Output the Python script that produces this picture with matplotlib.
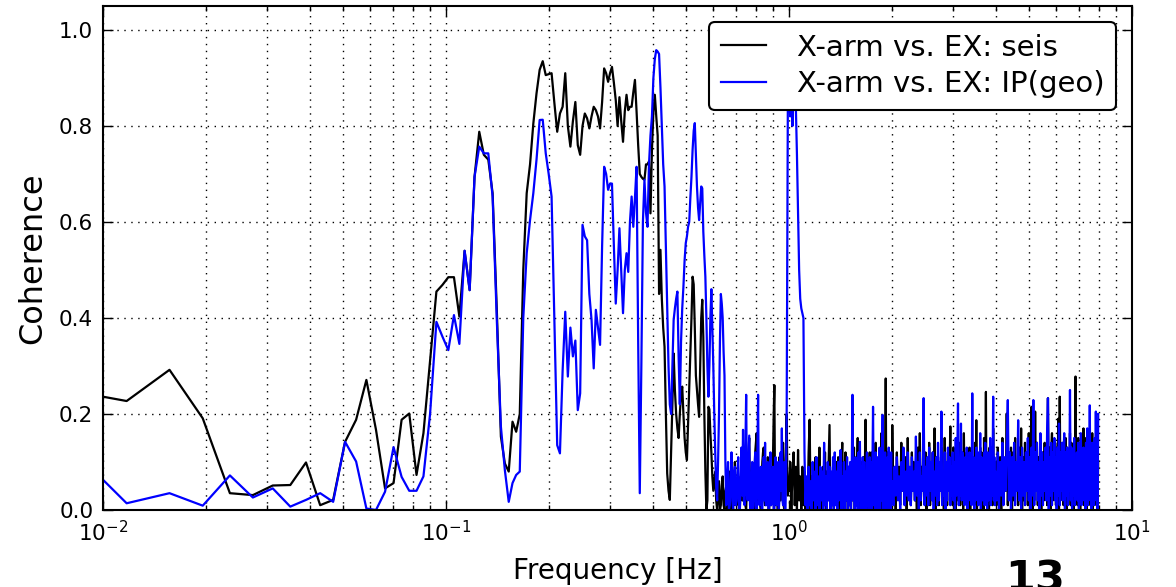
"""Coherence of X-arm motion against EX seismometer / IP geophone."""
import matplotlib
matplotlib.use("Agg")
import matplotlib.pyplot as plt
import numpy as np

# Frequency bins (bin width 1/256 Hz), decimated at higher frequency
DF = 1.0 / 256
bins_low = np.arange(2, 150)
bins_mid = np.arange(150, 256)
bins_1hz = np.arange(256, 512, 2)
bins_2hz = np.arange(512, 1024, 4)
bins_4hz = np.arange(1024, 2048, 8)

# X-arm vs. EX: seis
seis_low = [
    0.25, 0.227, 0.292, 0.191, 0.035, 0.031, 0.051, 0.052, 0.099, 0.010,
    0.021, 0.142, 0.188, 0.271, 0.167, 0.045, 0.056, 0.188, 0.201, 0.073,
    0.16, 0.31, 0.455, 0.469, 0.485, 0.485, 0.403, 0.54, 0.458, 0.694,
    0.788, 0.74, 0.73, 0.66, 0.417, 0.153, 0.097, 0.08, 0.184, 0.163,
    0.2, 0.5, 0.66, 0.72, 0.805, 0.868, 0.917, 0.935, 0.906, 0.908,
    0.91, 0.847, 0.788, 0.826, 0.84, 0.91, 0.80, 0.757, 0.81, 0.85,
    0.76, 0.74, 0.80, 0.826, 0.816, 0.795, 0.82, 0.84, 0.833, 0.82,
    0.795, 0.85, 0.92, 0.91, 0.892, 0.91, 0.923, 0.89, 0.854, 0.80,
    0.86, 0.81, 0.767, 0.83, 0.865, 0.833, 0.84, 0.84, 0.87, 0.896,
    0.83, 0.76, 0.70, 0.694, 0.69, 0.688, 0.72, 0.72, 0.726, 0.618,
    0.75, 0.83, 0.865, 0.82, 0.78, 0.45, 0.542, 0.44, 0.38, 0.34,
    0.20, 0.076, 0.04, 0.021, 0.12, 0.22, 0.326, 0.25, 0.20, 0.17,
    0.15, 0.20, 0.24, 0.257, 0.20, 0.15, 0.12, 0.104, 0.18, 0.26,
    0.326, 0.40, 0.486, 0.47, 0.38, 0.28, 0.25, 0.22, 0.194, 0.30,
    0.40, 0.438, 0.36, 0.20, 0.08, 0.0, 0.02, 0.215,
]
seis_mid = [
    0.21, 0.16, 0.12, 0.07, 0.04, 0.06, 0.08, 0.02, 0.00, 0.03,
    0.06, 0.00, 0.01, 0.05, 0.07, 0.01, 0.00, 0.04, 0.05, 0.00,
    0.01, 0.06, 0.08, 0.02, 0.00, 0.04, 0.06, 0.01, 0.10, 0.03,
    0.01, 0.05, 0.07, 0.00, 0.00, 0.06, 0.09, 0.02, 0.02, 0.07,
    0.10, 0.01, 0.00, 0.05, 0.08, 0.12, 0.15, 0.03, 0.01, 0.06,
    0.09, 0.01, 0.00, 0.07, 0.12, 0.14, 0.16, 0.04, 0.02, 0.05,
    0.08, 0.01, 0.00, 0.06, 0.10, 0.12, 0.13, 0.02, 0.01, 0.05,
    0.07, 0.03, 0.11, 0.00, 0.00, 0.06, 0.09, 0.01, 0.02, 0.08,
    0.12, 0.20, 0.26, 0.05, 0.01, 0.04, 0.08, 0.00, 0.00, 0.07,
    0.11, 0.02, 0.02, 0.06, 0.09, 0.12, 0.14, 0.01, 0.00, 0.05,
    0.09, 0.14, 0.20, 0.08, 0.03, 0.05,
]
seis_1hz = [
    0.04, 0.10, 0.00, 0.08, 0.12, 0.01, 0.09, 0.00, 0.125, 0.02, 0.07, 0.00, 0.09, 0.01, 0.08, 0.00,
    0.06, 0.01, 0.12, 0.188, 0.00, 0.07, 0.02, 0.09, 0.00, 0.11, 0.01, 0.08, 0.00, 0.13, 0.02, 0.07,
    0.00, 0.09, 0.01, 0.12, 0.00, 0.08, 0.02, 0.10, 0.177, 0.00, 0.07, 0.01, 0.09, 0.00, 0.08, 0.02,
    0.10, 0.00, 0.11, 0.01, 0.07, 0.00, 0.09, 0.14, 0.01, 0.08, 0.00, 0.12, 0.02, 0.07, 0.00, 0.09,
    0.01, 0.08, 0.00, 0.10, 0.02, 0.07, 0.13, 0.00, 0.09, 0.01, 0.08, 0.15, 0.00, 0.09, 0.02, 0.07,
    0.00, 0.10, 0.01, 0.11, 0.00, 0.09, 0.188, 0.02, 0.08, 0.00, 0.10, 0.01, 0.12, 0.00, 0.07, 0.12,
    0.01, 0.09, 0.00, 0.11, 0.02, 0.14, 0.00, 0.08, 0.01, 0.11, 0.00, 0.09, 0.02, 0.10, 0.16, 0.00,
    0.08, 0.01, 0.10, 0.00, 0.09, 0.274, 0.02, 0.07, 0.12, 0.00, 0.09, 0.01, 0.10, 0.00, 0.11, 0.02,
]
seis_2hz = [
    0.177, 0.02, 0.08, 0.00, 0.12, 0.03, 0.09, 0.01, 0.14, 0.04, 0.07, 0.02, 0.11, 0.00, 0.15, 0.03,
    0.08, 0.01, 0.12, 0.04, 0.10, 0.02, 0.07, 0.00, 0.13, 0.03, 0.16, 0.01, 0.09, 0.04, 0.11, 0.02,
    0.12, 0.00, 0.10, 0.03, 0.14, 0.01, 0.09, 0.04, 0.12, 0.02, 0.17, 0.00, 0.07, 0.03, 0.11, 0.01,
    0.09, 0.04, 0.13, 0.02, 0.07, 0.00, 0.15, 0.03, 0.10, 0.01, 0.12, 0.04, 0.08, 0.174, 0.02, 0.11,
    0.01, 0.13, 0.03, 0.09, 0.00, 0.12, 0.02, 0.08, 0.04, 0.14, 0.01, 0.10, 0.03, 0.11, 0.00, 0.16,
    0.02, 0.09, 0.04, 0.12, 0.01, 0.10, 0.03, 0.13, 0.00, 0.08, 0.02, 0.11, 0.04, 0.09, 0.01, 0.14,
    0.03, 0.187, 0.00, 0.11, 0.02, 0.08, 0.04, 0.13, 0.01, 0.12, 0.03, 0.10, 0.00, 0.15, 0.02, 0.08,
    0.246, 0.01, 0.11, 0.03, 0.09, 0.00, 0.13, 0.02, 0.10, 0.04, 0.12, 0.01, 0.17, 0.03, 0.10, 0.02,
]
seis_4hz = [
    0.10, 0.01, 0.13, 0.03, 0.11, 0.00, 0.15, 0.02, 0.09, 0.04, 0.201, 0.01, 0.11, 0.03, 0.13, 0.00,
    0.12, 0.02, 0.15, 0.04, 0.10, 0.01, 0.13, 0.03, 0.17, 0.00, 0.11, 0.02, 0.14, 0.04, 0.12, 0.01,
    0.16, 0.03, 0.13, 0.215, 0.00, 0.12, 0.02, 0.205, 0.04, 0.14, 0.01, 0.11, 0.03, 0.15, 0.00, 0.10,
    0.12, 0.02, 0.14, 0.04, 0.11, 0.01, 0.233, 0.03, 0.13, 0.00, 0.12, 0.16, 0.02, 0.11, 0.04, 0.14,
    0.01, 0.10, 0.03, 0.19, 0.00, 0.236, 0.02, 0.11, 0.04, 0.14, 0.01, 0.12, 0.03, 0.15, 0.00, 0.13,
    0.02, 0.12, 0.04, 0.16, 0.01, 0.14, 0.03, 0.11, 0.00, 0.13, 0.02, 0.278, 0.04, 0.12, 0.01, 0.15,
    0.03, 0.11, 0.00, 0.14, 0.02, 0.12, 0.04, 0.17, 0.01, 0.13, 0.03, 0.15, 0.00, 0.12, 0.02, 0.14,
    0.04, 0.11, 0.01, 0.13, 0.03, 0.16, 0.00, 0.12, 0.02, 0.14, 0.04, 0.11, 0.01, 0.13, 0.03, 0.10,
]

# X-arm vs. EX: IP(geo)
geo_low = [
    0.139, 0.014, 0.035, 0.009, 0.072, 0.026, 0.045, 0.007, 0.021, 0.035,
    0.017, 0.142, 0.101, 0.003, 0.0, 0.038, 0.131, 0.069, 0.04, 0.04,
    0.07, 0.2, 0.392, 0.361, 0.333, 0.406, 0.346, 0.54, 0.458, 0.694,
    0.757, 0.743, 0.743, 0.653, 0.396, 0.174, 0.083, 0.017, 0.056, 0.073,
    0.08, 0.40, 0.535, 0.604, 0.66, 0.73, 0.8125, 0.813, 0.743, 0.70,
    0.653, 0.396, 0.135, 0.118, 0.29, 0.413, 0.278, 0.38, 0.32, 0.353,
    0.208, 0.243, 0.594, 0.57, 0.562, 0.45, 0.396, 0.295, 0.417, 0.38,
    0.344, 0.55, 0.715, 0.70, 0.667, 0.68, 0.68, 0.55, 0.43, 0.50,
    0.587, 0.50, 0.41, 0.50, 0.535, 0.496, 0.60, 0.653, 0.59, 0.65,
    0.715, 0.35, 0.035, 0.30, 0.60, 0.688, 0.62, 0.59, 0.72, 0.78,
    0.82, 0.90, 0.94, 0.958, 0.955, 0.95, 0.88, 0.80, 0.72, 0.674,
    0.55, 0.42, 0.30, 0.22, 0.20, 0.30, 0.396, 0.42, 0.44, 0.455,
    0.32, 0.22, 0.35, 0.42, 0.465, 0.52, 0.556, 0.57, 0.59, 0.60,
    0.65, 0.694, 0.75, 0.79, 0.806, 0.74, 0.674, 0.63, 0.604, 0.64,
    0.674, 0.67, 0.58, 0.53, 0.486, 0.40, 0.30, 0.236,
]
geo_mid = [
    0.30, 0.40, 0.46, 0.38, 0.30, 0.20, 0.12, 0.05, 0.02, 0.10,
    0.20, 0.35, 0.45, 0.43, 0.40, 0.33, 0.28, 0.10, 0.01, 0.05,
    0.10, 0.00, 0.01, 0.06, 0.12, 0.02, 0.00, 0.08, 0.09, 0.01,
    0.02, 0.07, 0.11, 0.00, 0.00, 0.05, 0.13, 0.03, 0.167, 0.02,
    0.01, 0.12, 0.24, 0.03, 0.02, 0.09, 0.155, 0.01, 0.00, 0.06,
    0.10, 0.00, 0.01, 0.08, 0.12, 0.02, 0.00, 0.11, 0.24, 0.03,
    0.01, 0.05, 0.09, 0.00, 0.00, 0.07, 0.11, 0.02, 0.14, 0.01,
    0.01, 0.06, 0.10, 0.00, 0.00, 0.08, 0.12, 0.01, 0.02, 0.07,
    0.09, 0.00, 0.00, 0.06, 0.11, 0.02, 0.01, 0.08, 0.10, 0.00,
    0.02, 0.09, 0.12, 0.04, 0.17, 0.02, 0.01, 0.06, 0.10, 0.00,
    0.00, 0.08, 0.20, 0.55, 0.85, 0.90,
]
geo_1hz = [
    0.90, 0.82, 0.93, 0.80, 0.92, 0.85, 0.84, 0.74, 0.62, 0.50, 0.44, 0.42, 0.41, 0.40, 0.12, 0.01,
    0.07, 0.00, 0.09, 0.01, 0.06, 0.00, 0.10, 0.02, 0.08, 0.00, 0.11, 0.01, 0.07, 0.00, 0.09, 0.02,
    0.08, 0.00, 0.14, 0.01, 0.07, 0.00, 0.10, 0.02, 0.09, 0.00, 0.08, 0.01, 0.11, 0.00, 0.12, 0.01,
    0.08, 0.00, 0.10, 0.02, 0.09, 0.125, 0.00, 0.07, 0.01, 0.10, 0.00, 0.08, 0.02, 0.11, 0.00, 0.09,
    0.01, 0.10, 0.00, 0.08, 0.24, 0.02, 0.09, 0.00, 0.11, 0.01, 0.08, 0.00, 0.12, 0.02, 0.142, 0.00,
    0.09, 0.01, 0.11, 0.00, 0.10, 0.02, 0.08, 0.00, 0.12, 0.01, 0.09, 0.00, 0.11, 0.02, 0.10, 0.00,
    0.08, 0.215, 0.01, 0.10, 0.00, 0.12, 0.02, 0.09, 0.00, 0.11, 0.01, 0.13, 0.00, 0.10, 0.02, 0.11,
    0.198, 0.00, 0.10, 0.01, 0.12, 0.00, 0.09, 0.02, 0.11, 0.00, 0.13, 0.01, 0.10, 0.00, 0.12, 0.02,
]
geo_2hz = [
    0.06, 0.01, 0.09, 0.03, 0.11, 0.02, 0.07, 0.00, 0.10, 0.04, 0.13, 0.01, 0.08, 0.03, 0.12, 0.02,
    0.09, 0.01, 0.11, 0.04, 0.08, 0.02, 0.153, 0.03, 0.10, 0.00, 0.12, 0.02, 0.07, 0.04, 0.233, 0.01,
    0.09, 0.03, 0.11, 0.01, 0.13, 0.04, 0.10, 0.02, 0.12, 0.00, 0.08, 0.03, 0.11, 0.01, 0.14, 0.02,
    0.10, 0.04, 0.205, 0.01, 0.08, 0.03, 0.12, 0.00, 0.10, 0.02, 0.13, 0.04, 0.11, 0.01, 0.09, 0.03,
    0.12, 0.02, 0.10, 0.00, 0.15, 0.03, 0.11, 0.222, 0.01, 0.09, 0.03, 0.18, 0.02, 0.12, 0.04, 0.10,
    0.01, 0.11, 0.03, 0.13, 0.00, 0.10, 0.02, 0.12, 0.04, 0.09, 0.01, 0.243, 0.03, 0.11, 0.00, 0.10,
    0.02, 0.13, 0.04, 0.09, 0.01, 0.12, 0.03, 0.16, 0.00, 0.11, 0.02, 0.10, 0.04, 0.12, 0.01, 0.14,
    0.03, 0.10, 0.00, 0.12, 0.02, 0.11, 0.04, 0.15, 0.01, 0.13, 0.03, 0.09, 0.236, 0.02, 0.11, 0.01,
]
geo_4hz = [
    0.08, 0.02, 0.12, 0.00, 0.10, 0.03, 0.14, 0.01, 0.11, 0.04, 0.13, 0.229, 0.02, 0.12, 0.00, 0.11,
    0.03, 0.14, 0.01, 0.10, 0.04, 0.187, 0.02, 0.11, 0.00, 0.13, 0.03, 0.10, 0.01, 0.12, 0.04, 0.15,
    0.02, 0.11, 0.00, 0.13, 0.03, 0.229, 0.01, 0.12, 0.04, 0.14, 0.02, 0.10, 0.00, 0.16, 0.03, 0.12,
    0.01, 0.10, 0.04, 0.13, 0.02, 0.17, 0.233, 0.00, 0.11, 0.03, 0.14, 0.01, 0.12, 0.04, 0.15, 0.02,
    0.11, 0.00, 0.13, 0.03, 0.18, 0.01, 0.12, 0.04, 0.14, 0.02, 0.11, 0.16, 0.00, 0.12, 0.03, 0.13,
    0.01, 0.11, 0.04, 0.25, 0.02, 0.13, 0.00, 0.12, 0.03, 0.15, 0.01, 0.10, 0.04, 0.12, 0.02, 0.14,
    0.00, 0.12, 0.03, 0.16, 0.01, 0.11, 0.04, 0.13, 0.02, 0.12, 0.00, 0.14, 0.03, 0.17, 0.01, 0.11,
    0.04, 0.218, 0.02, 0.12, 0.00, 0.14, 0.03, 0.11, 0.01, 0.15, 0.04, 0.205, 0.02, 0.14, 0.00, 0.20,
]

freq = np.concatenate([bins_low, bins_mid, bins_1hz, bins_2hz, bins_4hz]) * DF
coh_seis = np.concatenate([seis_low, seis_mid, seis_1hz, seis_2hz, seis_4hz])
coh_geo = np.concatenate([geo_low, geo_mid, geo_1hz, geo_2hz, geo_4hz])


def main():
    plt.rcParams["font.family"] = "DejaVu Sans"
    plt.rcParams["xtick.direction"] = "in"
    plt.rcParams["ytick.direction"] = "in"

    fig = plt.figure(figsize=(11.76, 5.87), dpi=100)
    ax = fig.add_axes([0.0876, 0.1312, 0.875, 0.8586])

    ax.plot(freq, coh_seis, color="k", linewidth=1.6, label="X-arm vs. EX: seis")
    ax.plot(freq, coh_geo, color="b", linewidth=1.6, label="X-arm vs. EX: IP(geo)")

    ax.set_xscale("log")
    ax.set_xlim(1e-2, 1e1)
    ax.set_ylim(0, 1.05)
    ax.set_yticks([0.0, 0.2, 0.4, 0.6, 0.8, 1.0])
    ax.set_yticklabels(["0.0", "0.2", "0.4", "0.6", "0.8", "1.0"])

    grid_style = dict(color="k", linestyle=(0, (1, 4)), linewidth=1.0)
    ax.grid(True, which="both", axis="x", **grid_style)
    ax.grid(True, which="major", axis="y", **grid_style)
    ax.tick_params(which="both", top=True, right=True, labelsize=15.5, width=1.0)
    ax.tick_params(which="major", length=7, pad=7)
    ax.tick_params(which="minor", length=3.5)
    for spine in ax.spines.values():
        spine.set_linewidth(1.5)

    ax.set_xlabel("Frequency [Hz]", fontsize=20, labelpad=9)
    ax.set_ylabel("Coherence", fontsize=23, labelpad=8)

    leg = ax.legend(loc="upper right", fontsize=21, handlelength=1.55,
                    handletextpad=1.05, fancybox=True, framealpha=1.0,
                    borderaxespad=0.55, borderpad=0.4, labelspacing=0.3)
    leg.get_frame().set_edgecolor("k")
    leg.get_frame().set_linewidth(1.5)

    fig.text(0.855, -0.008, "13", fontsize=31, fontweight="bold", va="baseline")

    fig.savefig("out.png", dpi=100)
    plt.close(fig)


if __name__ == "__main__":
    main()
